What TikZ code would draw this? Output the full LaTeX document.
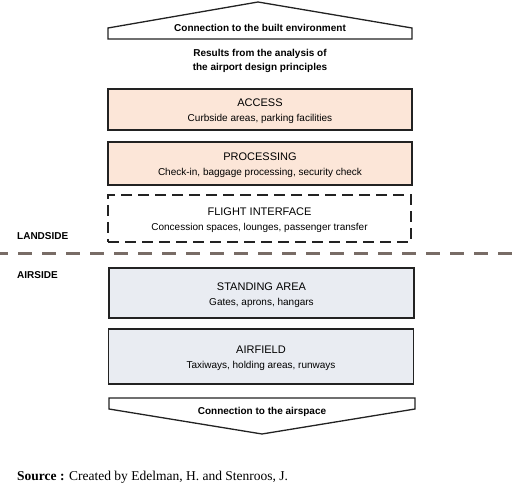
\documentclass[tikz,border=0pt]{standalone}
\usepackage{fontspec}
\setmainfont{Liberation Sans}
\newfontfamily\srcfont{Liberation Serif}
\definecolor{peach}{RGB}{252,230,216}
\definecolor{bluegray}{RGB}{233,236,242}
\definecolor{borderc}{RGB}{34,34,34}
\definecolor{dashc}{RGB}{120,108,102}
\begin{document}
\begin{tikzpicture}[x=1pt,y=-1pt,
  box/.style={draw=borderc,line width=1.6pt,rectangle,inner sep=0pt},
  landbox/.style={box,fill=peach,minimum width=304pt},
  airbox/.style={box,fill=bluegray,minimum width=305pt},
  ttl/.style={anchor=base,inner sep=0pt,font=\fontsize{11}{13}\selectfont},
  sub/.style={anchor=base,inner sep=0pt,font=\fontsize{10}{12}\selectfont},
  bold/.style={anchor=base,inner sep=0pt,font=\fontsize{10}{12}\selectfont\bfseries},
  arrowshape/.style={draw=borderc,line width=1.3pt,fill=white,line join=miter}
]
\useasboundingbox (0,0) rectangle (520,486);
\fill[white] (0,0) rectangle (520,486);

% top arrow
\coordinate (t1) at (108,39);
\coordinate (t2) at (108,28);
\coordinate (t3) at (258,2);
\coordinate (t4) at (412,28);
\coordinate (t5) at (412,39);
\draw[arrowshape] (t1) -- (t2) -- (t3) -- (t4) -- (t5) -- cycle;
\node[bold] (topt) at (260,31.5) {Connection to the built environment};

\node[bold] (res1) at (260,57) {Results from the analysis of};
\node[bold] (res2) at (260,71) {the airport design principles};

% boxes
\node[landbox,minimum height=41pt] (access) at (260,109.5) {};
\node[ttl] (accessT) at ([yshift=2.5pt]access.center) {ACCESS};
\node[sub] (accessS) at ([yshift=-12.5pt]access.center) {Curbside areas, parking facilities};

\node[landbox,minimum height=43pt] (proc) at (260,163.5) {};
\node[ttl] (procT) at ([yshift=2.5pt]proc.center) {PROCESSING};
\node[sub] (procS) at ([yshift=-12.5pt]proc.center) {Check-in, baggage processing, security check};

\node[box,dash pattern=on 11pt off 6pt,minimum width=303pt,minimum height=47pt] (flight) at (259.5,218.5) {};
\node[ttl] (flightT) at ([yshift=2.5pt]flight.center) {FLIGHT INTERFACE};
\node[sub] (flightS) at ([yshift=-12.5pt]flight.center) {Concession spaces, lounges, passenger transfer};

\node[bold,anchor=base west] (land) at (17,240) {LANDSIDE};

% divider
\coordinate (dl) at (0,254);
\coordinate (dr) at (520,254);
\draw[dashc,line width=3pt,dash pattern=on 14pt off 10pt,dash phase=6pt] (dl) -- (dr);

\node[bold,anchor=base west] (air) at (17,279) {AIRSIDE};

\node[airbox,minimum height=50pt] (stand) at (261.5,293) {};
\node[ttl] (standT) at ([yshift=2.5pt]stand.center) {STANDING AREA};
\node[sub] (standS) at ([yshift=-12.5pt]stand.center) {Gates, aprons, hangars};

\node[airbox,minimum height=55pt] (field) at (261,356.5) {};
\node[ttl] (fieldT) at ([yshift=2.5pt]field.center) {AIRFIELD};
\node[sub] (fieldS) at ([yshift=-12.5pt]field.center) {Taxiways, holding areas, runways};

% bottom arrow
\coordinate (b1) at (109,398);
\coordinate (b2) at (415,398);
\coordinate (b3) at (415,409);
\coordinate (b4) at (262,434);
\coordinate (b5) at (109,409);
\draw[arrowshape] (b1) -- (b2) -- (b3) -- (b4) -- (b5) -- cycle;
\node[bold] (bott) at (262,415) {Connection to the airspace};

\node[anchor=base west,inner sep=0pt,font=\fontsize{13.5}{16}\srcfont] (src) at (17,481) {\textbf{Source :} Created by Edelman, H. and Stenroos, J.};
\end{tikzpicture}
\end{document}
